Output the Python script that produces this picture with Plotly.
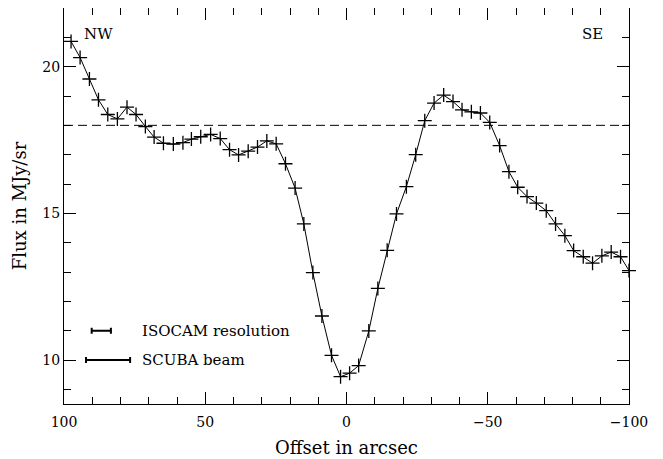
import plotly.graph_objects as go

# Data
offset = [97.5, 94.3, 91.0, 87.8, 84.5, 81.1, 77.7, 74.5, 71.2, 68.1, 64.8, 61.3,
          57.9, 54.9, 51.6, 48.1, 44.7, 41.4, 38.2, 34.8, 31.5, 28.2, 24.9, 21.6,
          18.2, 15.1, 11.9, 8.7, 5.3, 2.1, -1.1, -4.3, -7.9, -11.1, -14.4, -17.7,
          -21.2, -24.5, -27.7, -31.0, -34.4, -37.7, -40.9, -44.2, -47.4, -50.7,
          -54.2, -57.5, -60.6, -63.9, -67.2, -70.7, -74.0, -77.3, -80.4, -83.8,
          -87.1, -90.4, -93.7, -97.0, -100.0]
flux = [20.86, 20.31, 19.58, 18.87, 18.37, 18.22, 18.62, 18.37, 17.96, 17.60,
        17.39, 17.36, 17.41, 17.53, 17.61, 17.69, 17.55, 17.17, 16.99, 17.12,
        17.26, 17.47, 17.37, 16.69, 15.86, 14.64, 12.98, 11.50, 10.16, 9.43,
        9.55, 9.81, 10.99, 12.44, 13.74, 14.98, 15.91, 17.00, 18.16, 18.76,
        19.03, 18.81, 18.53, 18.46, 18.42, 18.10, 17.31, 16.42, 15.89, 15.57,
        15.35, 15.09, 14.64, 14.24, 13.73, 13.52, 13.30, 13.55, 13.68, 13.52,
        13.05]

reference_level = 18.0

beam_names = ["ISOCAM resolution", "SCUBA beam"]
beam_center = [86.8, 84.4]
beam_halfwidth = [3.4, 7.8]
beam_y = [11.0, 10.0]
label_x = 73.0

x_ticks = [100, 50, 0, -50, -100]
y_ticks = [10, 15, 20]

FONT = "DejaVu Serif"

fig = go.Figure()

fig.add_trace(go.Scatter(
    x=[x_ticks[0], x_ticks[-1]], y=[reference_level, reference_level],
    mode="lines", line=dict(color="black", width=1, dash="9px,5px"),
    hoverinfo="skip", showlegend=False))

fig.add_trace(go.Scatter(
    x=offset, y=flux, mode="lines+markers",
    line=dict(color="black", width=1),
    marker=dict(symbol="cross-thin-open", size=10,
                line=dict(color="black", width=1.3), color="black"),
    cliponaxis=False, showlegend=False))

for name, c, hw, yy in zip(beam_names, beam_center, beam_halfwidth, beam_y):
    fig.add_trace(go.Scatter(
        x=[c], y=[yy], mode="markers",
        marker=dict(size=1, color="black"),
        error_x=dict(type="data", symmetric=True, array=[hw],
                     thickness=2, width=3, color="black"),
        showlegend=False, hoverinfo="skip"))
    fig.add_annotation(x=label_x, y=yy, text=name, showarrow=False,
                       xanchor="left", yanchor="middle",
                       font=dict(family=FONT, size=15, color="black"))

fig.add_annotation(x=87.8, y=21.12, text="NW", showarrow=False,
                   font=dict(family=FONT, size=15, color="black"))
fig.add_annotation(x=-87.2, y=21.12, text="SE", showarrow=False,
                   font=dict(family=FONT, size=15, color="black"))

axis_common = dict(
    showgrid=False, zeroline=False, showline=True, linecolor="black",
    linewidth=1, mirror="ticks", ticks="inside", tickcolor="black",
    tickwidth=1, ticklen=12,
    tickfont=dict(family=FONT, size=14, color="black"),
)

fig.update_xaxes(
    range=[100, -100], tickvals=x_ticks, ticklabelstandoff=5,
    minor=dict(ticks="inside", ticklen=7, dtick=10, tickcolor="black",
               showgrid=False),
    title=dict(text="Offset in arcsec", font=dict(family=FONT, size=18, color="black"),
               standoff=12),
    **axis_common)
fig.update_yaxes(
    range=[8.5, 22], tickvals=y_ticks,
    minor=dict(ticks="inside", ticklen=7, dtick=1, tick0=0, tickcolor="black",
               showgrid=False),
    title=dict(text="Flux in MJy/sr", font=dict(family=FONT, size=18, color="black"),
               standoff=11),
    **axis_common)

fig.update_layout(
    width=655, height=451,
    margin=dict(l=56, r=34, t=0, b=55),
    paper_bgcolor="white", plot_bgcolor="white",
    showlegend=False,
)

fig.write_html("out.html")
